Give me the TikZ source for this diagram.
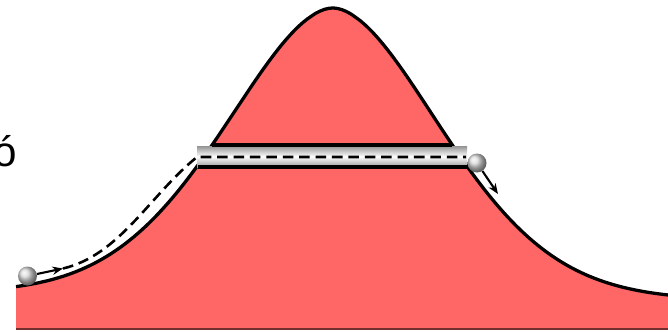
\documentclass[tikz,border=0pt]{standalone}
\usepackage{fontspec}
\setmainfont{Liberation Sans}
\usetikzlibrary{arrows.meta}
\definecolor{colline}{RGB}{255,102,102}
\tikzset{
  bille/.style={circle,shading=ball,ball color=gray!30,minimum size=0.57cm,inner sep=0pt},
  contour/.style={line width=2.8pt},
  trajet/.style={line width=2.2pt,dash pattern=on 9pt off 5pt},
  fleche/.style={->,line width=1.8pt}
}
\begin{document}
\begin{tikzpicture}[x=0.03cm,y=-0.03cm,>={Stealth[length=9pt,width=7pt]},
  declare function={f(\x)=300-292*exp(-(abs(\x-333)/153.8)^1.8)-6*max(0,(333-\x)/317);}]
\useasboundingbox (0,0) rectangle (668,331);
% la colline
\fill[colline] (16,329) -- plot[domain=16:668,samples=151] (\x,{f(\x)}) -- (668,329) -- cycle;
\draw[contour] plot[domain=16:668,samples=151] (\x,{f(\x)});
\draw[line width=1.8pt,colline!45!black] (16,329) -- (668,329);
% le tunnel
\shade[top color=gray!85,bottom color=gray!80,middle color=white] (197,146) rectangle (467,167);
\draw[contour] (212,145) -- (452,145);
\draw[contour] (198,167) -- (468,167);
% les billes
\node[bille] (b1) at (27.5,276) {};
\node[bille] (b2) at (477,163) {};
\coordinate (t1) at (63,268.5);
\coordinate (entree) at (197,157);
\coordinate (sortie) at (466,157);
\coordinate (t2) at (498,194);
\draw[fleche] (b1) -- (t1);
\draw[trajet] (t1) .. controls (120,255) and (150,195) .. (entree) -- (sortie);
\draw[fleche] (b2) -- (t2);
\node[anchor=base east,inner sep=0pt,font=\fontsize{36}{40}\selectfont] (lettre) at (17,166) {ó};
\end{tikzpicture}
\end{document}
